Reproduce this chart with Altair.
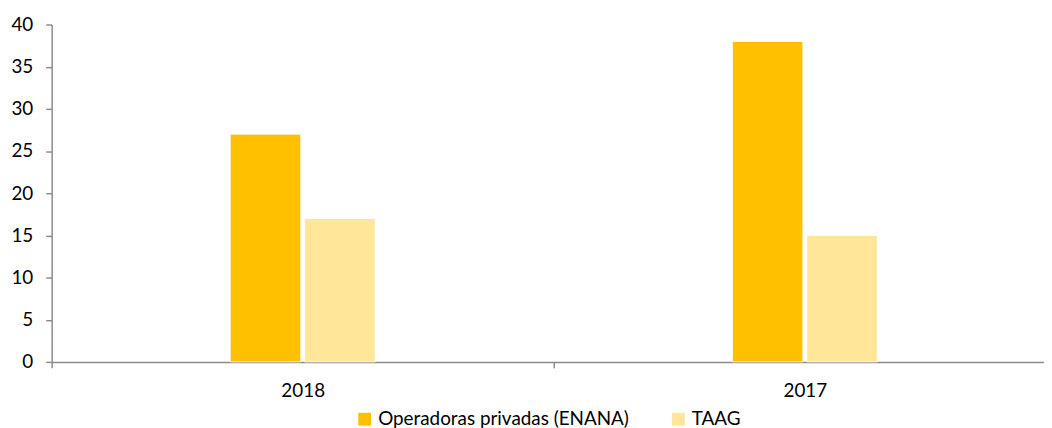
import altair as alt
import pandas as pd

years = ["2018", "2017"]
series = ["Operadoras privadas (ENANA)", "TAAG"]
enana = [27, 38]
taag = [17, 15]
colors = ["#FFC000", "#FFE699"]

rows = []
for i, y in enumerate(years):
    rows.append({"year": y, "series": series[0], "value": enana[i]})
    rows.append({"year": y, "series": series[1], "value": taag[i]})
df = pd.DataFrame(rows)

FONT = "Lato"
FS = 19
AXIS_COLOR = "#8C8C8C"
W = 1000
XR = 1012
BAND = XR / 2
PAIR = 146

chart = alt.Chart(df).mark_bar(stroke="white", strokeWidth=0.8).encode(
    x=alt.X("year:N", sort=years, title=None,
            scale=alt.Scale(paddingInner=0, paddingOuter=0, range=[0, XR]),
            axis=alt.Axis(labelAngle=0, tickBand="extent", tickSize=6,
                          labelPadding=14, labelFontSize=FS, labelFont=FONT,
                          labelColor="#000000", domainColor=AXIS_COLOR,
                          tickColor=AXIS_COLOR, domainWidth=1.5, tickWidth=1.5)),
    xOffset=alt.XOffset("series:N", sort=series,
                        scale=alt.Scale(paddingInner=0.053, paddingOuter=0,
                                        range=[(BAND - PAIR) / 2, (BAND + PAIR) / 2])),
    y=alt.Y("value:Q", title=None,
            scale=alt.Scale(domain=[0, 40]),
            axis=alt.Axis(values=[0, 5, 10, 15, 20, 25, 30, 35, 40], grid=False,
                          tickSize=6, labelPadding=13, labelFontSize=FS, labelFont=FONT,
                          labelColor="#000000", domainColor=AXIS_COLOR,
                          tickColor=AXIS_COLOR, domainWidth=1.5, tickWidth=1.5)),
    color=alt.Color("series:N", sort=series,
                    scale=alt.Scale(domain=series, range=colors),
                    legend=alt.Legend(orient="none", legendX=306, legendY=388,
                                      direction="horizontal", title=None,
                                      symbolType="square", symbolSize=169,
                                      symbolStrokeWidth=0, labelFontSize=FS,
                                      labelFont=FONT, labelColor="#000000",
                                      labelOffset=4, columnPadding=40, labelLimit=400)),
).properties(
    width=W,
    height=340,
    autosize=alt.AutoSizeParams(type="none"),
    padding={"left": 44, "top": 15, "right": 0, "bottom": 70},
).configure_view(stroke=None)

chart.save("out.html", embed_options={"renderer": "svg", "actions": False})
